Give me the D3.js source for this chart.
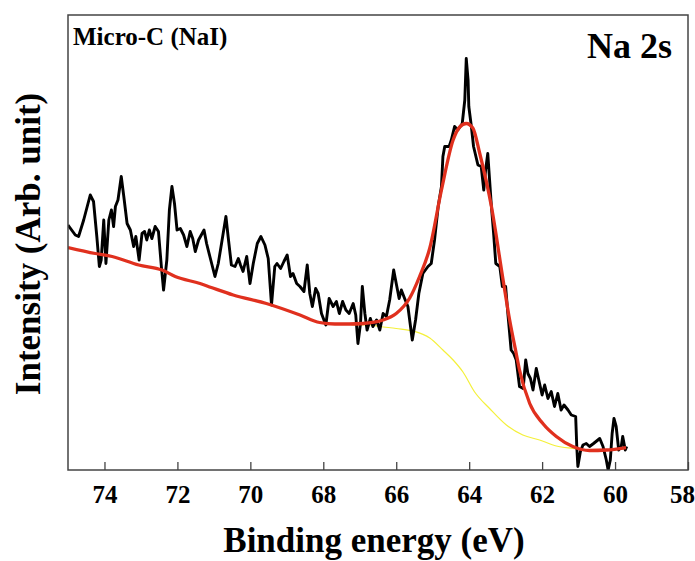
<!DOCTYPE html>
<html>
<head>
<meta charset="utf-8">
<script src="https://cdn.jsdelivr.net/npm/d3@7/dist/d3.min.js"></script>
<style>
body { margin: 0; background: #fff; }
text { font-family: "Liberation Serif", "Times New Roman", serif; font-weight: bold; }
</style>
</head>
<body>
<svg></svg>
<script>
var WIDTH = 695;
var HEIGHT = 561;
var margin = {left: 68, right: 7, top: 15, bottom: 91};

// measured spectrum, binding energy (eV) vs intensity (arb. unit)
var rawEnergy = [75.00, 74.80, 74.71, 74.57, 74.39, 74.30, 74.21, 74.14, 74.09, 74.02,
  73.96, 73.88, 73.81, 73.75, 73.70, 73.63, 73.54, 73.47, 73.38, 73.29,
  73.20, 73.14, 73.05, 72.97, 72.90, 72.84, 72.77, 72.70, 72.61, 72.52,
  72.44, 72.38, 72.29, 72.22, 72.15, 72.08, 72.01, 71.92, 71.83, 71.74,
  71.65, 71.58, 71.51, 71.42, 71.27, 71.20, 71.11, 70.97, 70.88, 70.79,
  70.67, 70.61, 70.52, 70.42, 70.33, 70.27, 70.20, 70.10, 70.01, 69.92,
  69.81, 69.71, 69.60, 69.51, 69.42, 69.33, 69.27, 69.17, 69.08, 68.99,
  68.90, 68.83, 68.73, 68.64, 68.53, 68.44, 68.37, 68.30, 68.21, 68.14,
  68.05, 67.93, 67.84, 67.73, 67.64, 67.56, 67.47, 67.38, 67.29, 67.18,
  67.11, 67.05, 66.98, 66.93, 66.86, 66.80, 66.71, 66.64, 66.54, 66.45,
  66.36, 66.27, 66.18, 66.07, 66.00, 65.92, 65.86, 65.77, 65.68, 65.56,
  65.47, 65.38, 65.27, 65.13, 65.04, 64.95, 64.85, 64.76, 64.72, 64.67,
  64.55, 64.49, 64.40, 64.31, 64.19, 64.12, 64.08, 64.03, 64.01, 63.94,
  63.88, 63.76, 63.67, 63.60, 63.55, 63.49, 63.44, 63.39, 63.33, 63.27,
  63.16, 63.09, 63.00, 62.94, 62.89, 62.85, 62.78, 62.71, 62.62, 62.52,
  62.45, 62.39, 62.32, 62.25, 62.16, 62.07, 62.00, 61.93, 61.84, 61.75,
  61.66, 61.57, 61.48, 61.40, 61.29, 61.20, 61.08, 61.05, 61.02, 60.95,
  60.88, 60.79, 60.70, 60.59, 60.42, 60.33, 60.24, 60.19, 60.13, 60.08,
  60.03, 59.97, 59.90, 59.83, 59.79, 59.72, 59.68];
var rawIntensity = [49.0, 47.0, 46.7, 50.0, 55.0, 53.7, 46.7, 40.7, 42.0, 50.0,
  41.3, 50.0, 52.0, 48.7, 52.7, 54.0, 58.7, 54.7, 49.3, 48.0,
  44.7, 46.7, 42.0, 47.3, 47.7, 46.0, 48.0, 46.3, 48.7, 47.7,
  40.7, 36.0, 42.0, 52.0, 56.7, 53.3, 48.0, 48.3, 47.0, 44.7,
  47.7, 46.3, 43.7, 46.0, 48.0, 45.3, 42.7, 38.7, 41.3, 45.3,
  50.7, 46.7, 41.0, 40.7, 42.3, 41.0, 39.7, 42.7, 37.3, 41.3,
  45.3, 46.7, 45.0, 42.3, 33.0, 40.7, 41.3, 40.3, 41.7, 43.0,
  38.7, 39.3, 37.3, 36.7, 35.7, 41.0, 35.3, 32.7, 36.3, 35.3,
  31.3, 29.0, 34.3, 32.7, 33.7, 31.3, 33.7, 32.0, 31.3, 33.3,
  31.0, 25.3, 29.3, 36.7, 31.3, 28.0, 30.3, 28.7, 30.0, 28.0,
  31.3, 30.7, 34.0, 40.0, 37.3, 34.3, 36.0, 34.3, 32.7, 26.0,
  30.0, 35.3, 39.3, 40.7, 41.3, 46.0, 52.7, 56.7, 62.7, 64.7,
  64.7, 66.0, 68.7, 68.0, 69.3, 74.0, 82.3, 78.0, 72.7, 68.7,
  64.7, 61.0, 60.7, 56.0, 60.0, 63.3, 58.0, 52.7, 47.3, 41.3,
  40.7, 36.7, 36.7, 31.3, 27.3, 24.0, 23.3, 22.0, 16.7, 16.3,
  22.0, 19.3, 18.3, 16.0, 20.3, 17.3, 15.0, 17.0, 14.3, 15.7,
  12.7, 15.3, 12.0, 13.0, 12.0, 11.0, 10.7, 4.7, 0.7, 3.7,
  5.0, 5.3, 4.7, 5.3, 6.3, 4.7, 2.0, 0.0, 2.0, 7.3,
  10.3, 8.7, 4.0, 4.7, 6.7, 4.0, 4.7];

// fitted envelope
var fitEnergy = [75.00, 74.25, 73.79, 73.06, 72.42, 72.06, 71.38, 71.07, 70.47, 69.56,
  68.64, 68.10, 67.68, 67.29, 66.91, 66.36, 66.00, 65.63, 65.36, 65.08,
  64.76, 64.44, 64.26, 64.08, 63.90, 63.71, 63.39, 63.07, 62.89, 62.71,
  62.62, 62.34, 61.98, 61.61, 61.16, 60.70, 60.24, 59.70];
var fitIntensity = [44.5, 43.3, 42.7, 41.0, 40.0, 38.7, 37.3, 36.5, 35.0, 33.3,
  31.0, 29.5, 29.2, 29.2, 29.3, 30.0, 31.3, 34.4, 38.7, 44.4,
  56.0, 66.0, 68.6, 69.3, 68.4, 63.3, 52.7, 38.0, 30.0, 23.3,
  20.0, 13.3, 9.3, 6.7, 4.7, 3.9, 4.0, 4.5];

// Shirley background
var bgEnergy = [75.00, 74.25, 73.79, 73.06, 72.42, 72.06, 71.38, 71.07, 70.47, 69.56,
  68.64, 68.10, 67.68, 67.29, 67.18, 66.73, 66.45, 66.00, 65.54, 65.08,
  64.72, 64.44, 64.17, 63.85, 63.44, 62.98, 62.53, 62.07, 61.61, 61.16,
  60.70, 60.24, 59.70];
var bgIntensity = [44.5, 43.3, 42.7, 41.0, 40.0, 38.7, 37.3, 36.5, 35.0, 33.3,
  31.0, 29.5, 29.2, 29.2, 29.0, 29.0, 28.7, 28.3, 27.8, 26.4,
  24.0, 22.0, 19.6, 15.6, 12.3, 9.0, 7.0, 6.0, 4.8, 4.3,
  3.9, 3.9, 4.3];

var xTicks = [74, 72, 70, 68, 66, 64, 62, 60, 58];

var svg = d3.select('svg')
  .attr('width', WIDTH)
  .attr('height', HEIGHT);

var xScale = d3.scaleLinear()
  .domain([75, 58])
  .range([margin.left, WIDTH - margin.right]);
var yScale = d3.scaleLinear()
  .domain([0, 91])
  .range([HEIGHT - margin.bottom, margin.top]);

var plotW = WIDTH - margin.right - margin.left;
var plotH = HEIGHT - margin.bottom - margin.top;

svg.append('clipPath').attr('id', 'clip')
  .append('rect')
  .attr('x', margin.left).attr('y', margin.top)
  .attr('width', plotW).attr('height', plotH);

var toPoints = function(xs, ys) {
  return xs.map(function(d, i) { return [d, ys[i]]; });
};

var line = d3.line()
  .x(function(d) { return xScale(d[0]); })
  .y(function(d) { return yScale(d[1]); });

var smooth = d3.line()
  .curve(d3.curveMonotoneX)
  .x(function(d) { return xScale(d[0]); })
  .y(function(d) { return yScale(d[1]); });

var plot = svg.append('g').attr('clip-path', 'url(#clip)');

plot.append('path')
  .datum(toPoints(bgEnergy, bgIntensity).reverse())
  .attr('d', smooth)
  .attr('fill', 'none')
  .attr('stroke', '#f4f03a')
  .attr('stroke-width', 1.2);

plot.append('path')
  .datum(toPoints(rawEnergy, rawIntensity))
  .attr('d', line)
  .attr('fill', 'none')
  .attr('stroke', '#000')
  .attr('stroke-width', 2.9)
  .attr('stroke-linejoin', 'round');

plot.append('path')
  .datum(toPoints(fitEnergy, fitIntensity).reverse())
  .attr('d', smooth)
  .attr('fill', 'none')
  .attr('stroke', '#e0301e')
  .attr('stroke-width', 3.3);

// frame
svg.append('rect')
  .attr('x', margin.left).attr('y', margin.top)
  .attr('width', plotW).attr('height', plotH)
  .attr('fill', 'none')
  .attr('stroke', '#444')
  .attr('stroke-width', 1.5);

var bottomAxis = d3.axisBottom(xScale)
  .tickValues(xTicks)
  .tickSizeInner(-8)
  .tickSizeOuter(0)
  .tickPadding(15)
  .tickFormat(d3.format('d'));

var gx = svg.append('g')
  .attr('transform', 'translate(0,' + (HEIGHT - margin.bottom) + ')')
  .call(bottomAxis);
gx.select('.domain').remove();
gx.selectAll('line').attr('stroke', '#444').attr('stroke-width', 1.3);
gx.selectAll('text')
  .attr('font-size', 25)
  .attr('fill', '#000')
  .attr('dx', function(d) { return d === 58 ? -6 : 0; })
  .style('font-family', '"Liberation Serif", serif')
  .style('font-weight', 'bold');

svg.append('text')
  .attr('x', 374).attr('y', 552)
  .attr('text-anchor', 'middle')
  .attr('font-size', 35)
  .text('Binding energy (eV)');

svg.append('text')
  .attr('transform', 'translate(40,244) rotate(-90)')
  .attr('text-anchor', 'middle')
  .attr('font-size', 35)
  .text('Intensity (Arb. unit)');

svg.append('text')
  .attr('x', 73).attr('y', 45)
  .attr('font-size', 25)
  .text('Micro-C (NaI)');

svg.append('text')
  .attr('x', 672).attr('y', 58)
  .attr('text-anchor', 'end')
  .attr('font-size', 36)
  .text('Na 2s');
</script>
</body>
</html>
